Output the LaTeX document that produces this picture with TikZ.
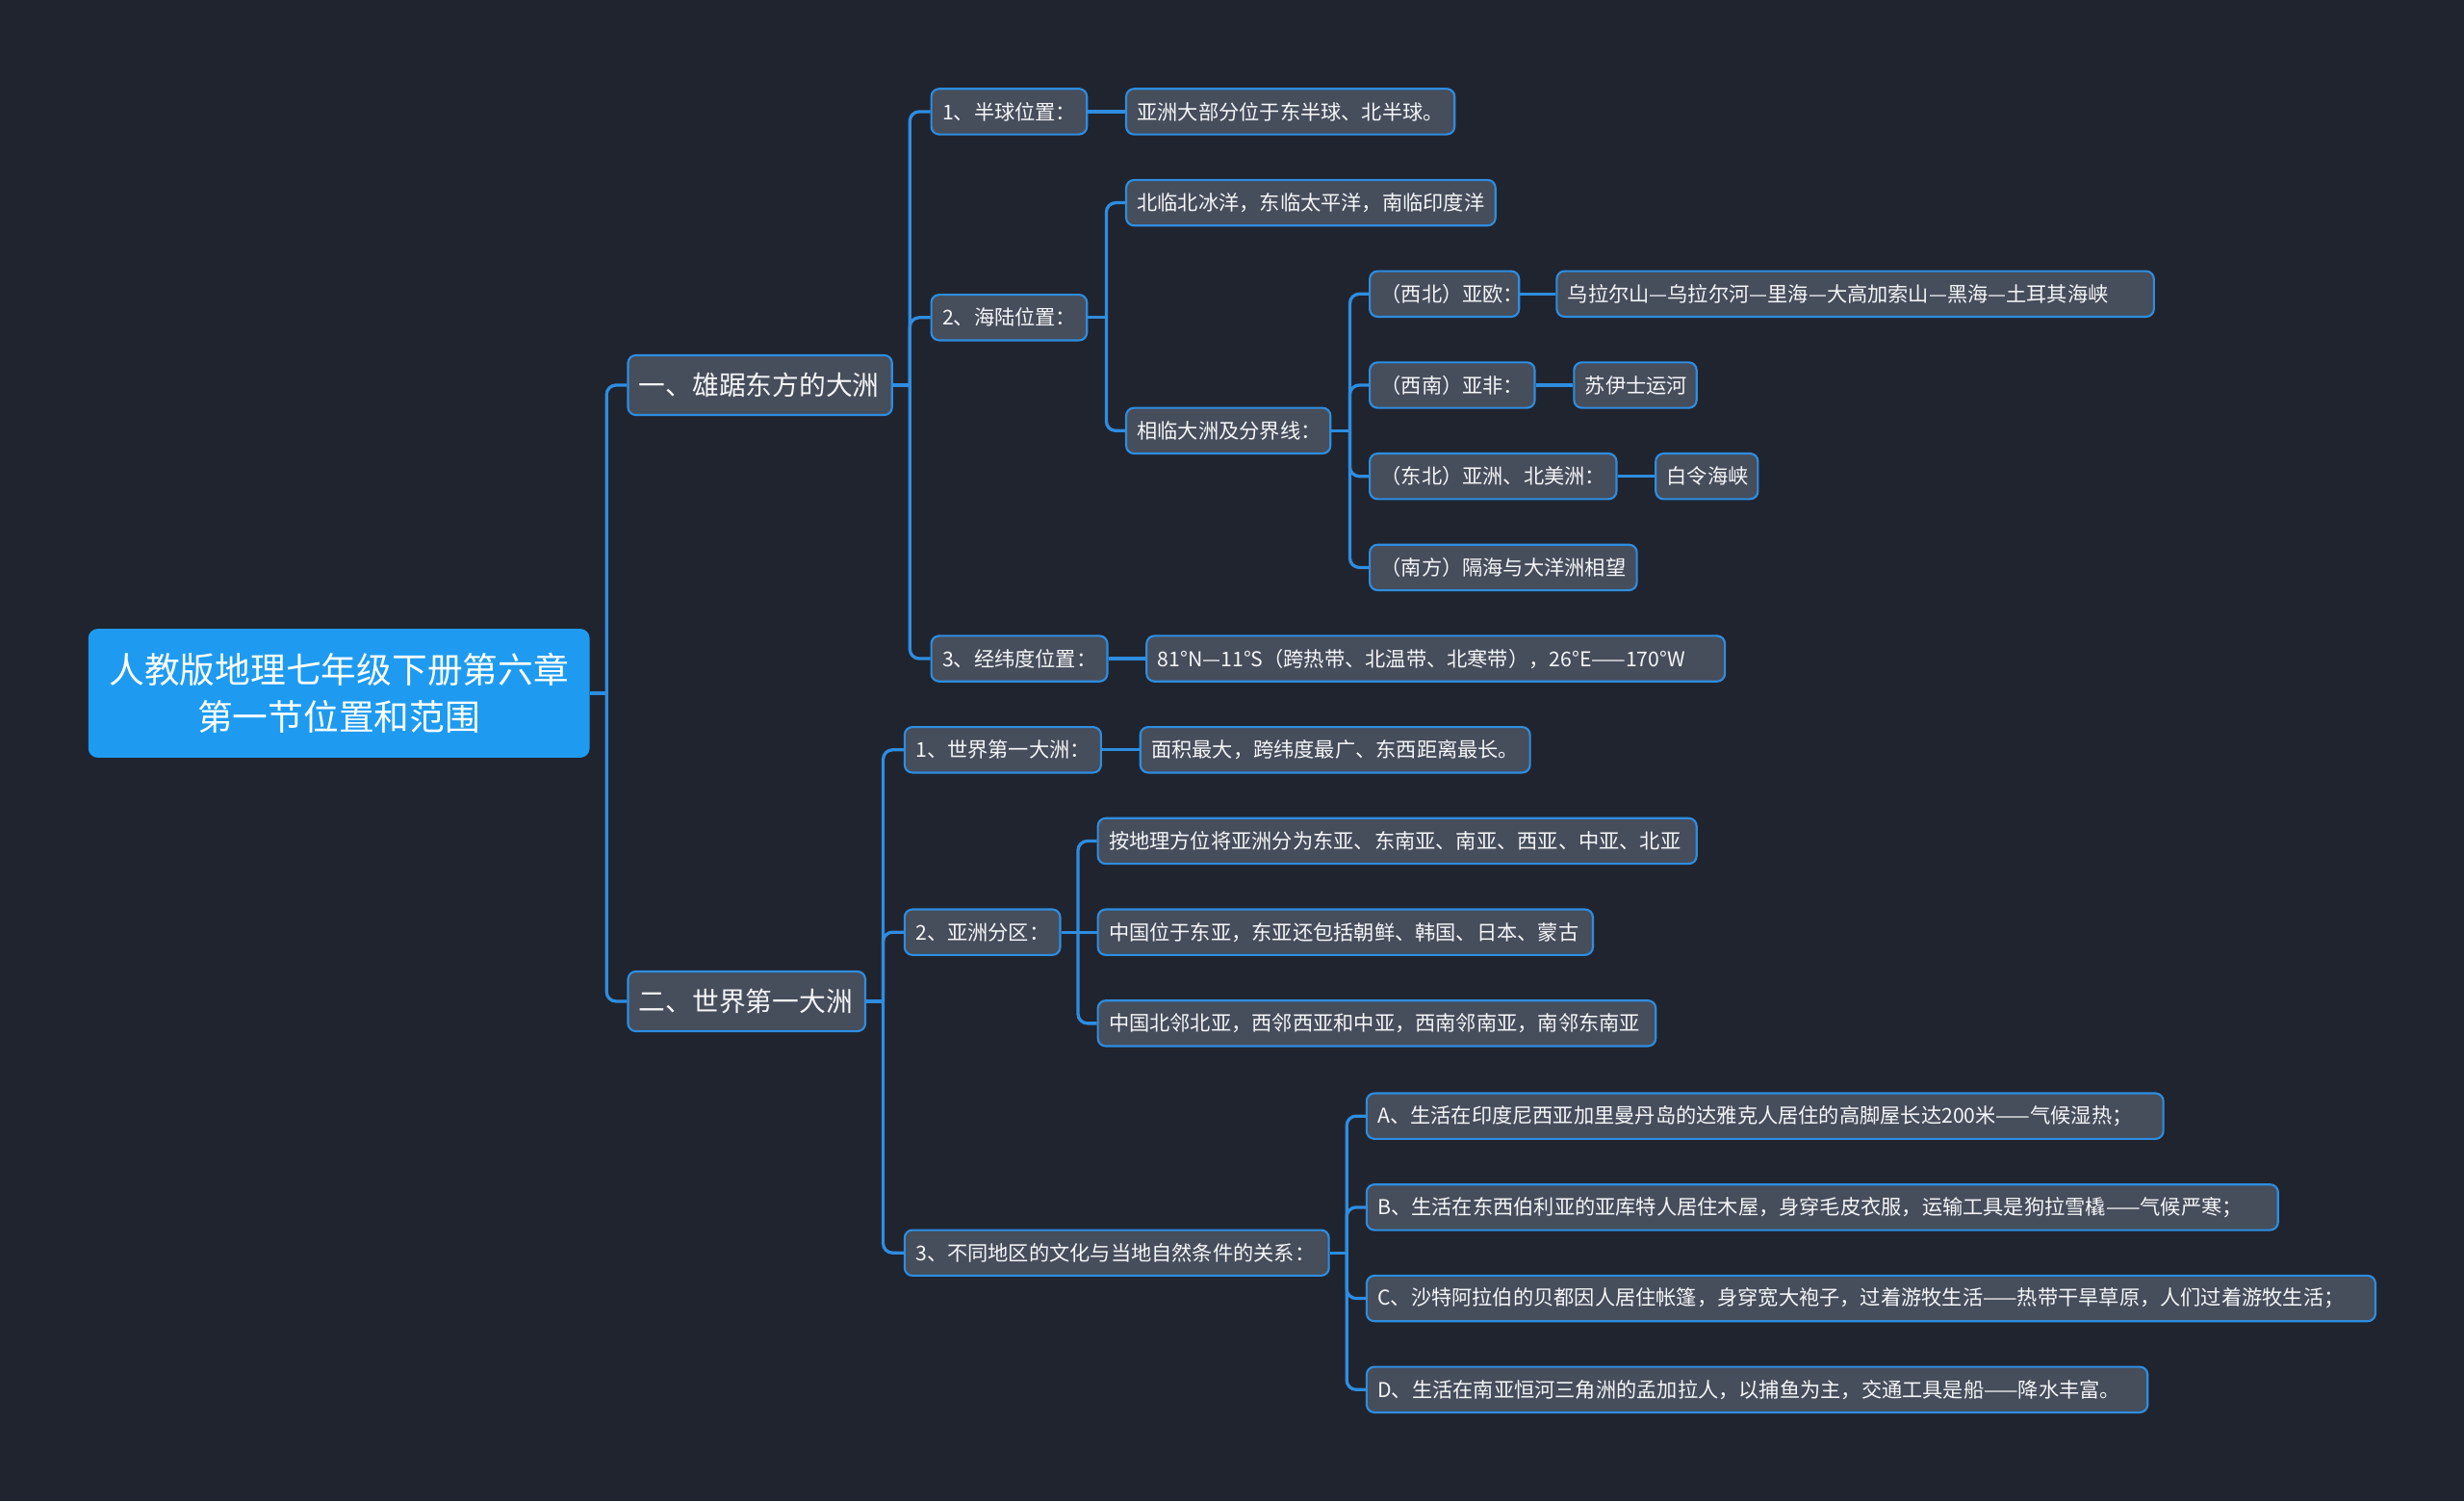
\documentclass[tikz,border=0pt]{standalone}
\usepackage{fontspec}
\newfontfamily\cjk{Noto Sans CJK SC}
\definecolor{bg}{HTML}{20242F}
\definecolor{nodefill}{HTML}{464D5B}
\definecolor{edgeblue}{HTML}{2E8DE0}
\definecolor{rootfill}{HTML}{1E9BF0}
\definecolor{txt}{HTML}{F4F6F8}
\newcommand{\lfbox}[2]{\hbox to \dimexpr#1pt-14pt\relax{#2\hfil}}
\begin{document}
\begin{tikzpicture}[x=1pt,y=-1pt,
 sbox/.style={draw=edgeblue, line width=1.3pt, fill=nodefill, rounded corners=5pt, text=txt, font=\cjk\fontsize{13}{15}\selectfont, minimum height=29pt, inner xsep=7pt, inner ysep=0pt, anchor=west},
 mbox/.style={sbox, font=\cjk\fontsize{17}{20}\selectfont, minimum height=38pt},
 rootbox/.style={fill=rootfill, draw=none, rounded corners=6pt, text=white, font=\cjk\fontsize{22.5}{30}\selectfont, align=center, minimum width=319pt, minimum height=82pt, anchor=west},
 conn/.style={draw=edgeblue, line width=2pt, rounded corners=6pt}]
\fill[bg] (0,0) rectangle (1568,955);
\useasboundingbox (0,0) rectangle (1568,955);

% trunks
\coordinate (t0) at (386,0);
\coordinate (tA) at (579,0);
\coordinate (tA2) at (704,0);
\coordinate (tA22) at (859,0);
\coordinate (tB) at (562,0);
\coordinate (tB2) at (686,0);
\coordinate (tB3) at (857,0);

% nodes
\node[rootbox] (r) at (56,441) {人教版地理七年级下册第六章\\第一节位置和范围};
\node[mbox] (a) at (399,245) {\lfbox{168}{一、雄踞东方的大洲}};
\node[mbox] (b) at (399,637) {\lfbox{151}{二、世界第一大洲}};

\node[sbox] (a1) at (592,71) {\lfbox{99}{1、半球位置：}};
\node[sbox] (a1x) at (716,71) {\lfbox{209}{亚洲大部分位于东半球、北半球。}};
\node[sbox] (a2) at (592,202) {\lfbox{99}{2、海陆位置：}};
\node[sbox] (a2a) at (716,129) {\lfbox{235}{北临北冰洋，东临太平洋，南临印度洋}};
\node[sbox] (a2b) at (716,274) {\lfbox{130}{相临大洲及分界线：}};
\node[sbox] (n1) at (871,187) {\lfbox{95}{（西北）亚欧：}};
\node[sbox] (n1x) at (990,187) {\lfbox{380}{乌拉尔山—乌拉尔河—里海—大高加索山—黑海—土耳其海峡}};
\node[sbox] (n2) at (871,245) {\lfbox{105}{（西南）亚非：}};
\node[sbox] (n2x) at (1001,245) {\lfbox{78}{苏伊士运河}};
\node[sbox] (n3) at (871,303) {\lfbox{157}{（东北）亚洲、北美洲：}};
\node[sbox] (n3x) at (1053,303) {\lfbox{65}{白令海峡}};
\node[sbox] (n4) at (871,361) {\lfbox{170}{（南方）隔海与大洋洲相望}};
\node[sbox] (a3) at (592,419) {\lfbox{112}{3、经纬度位置：}};
\node[sbox] (a3x) at (729,419) {\lfbox{368}{81°N—11°S（跨热带、北温带、北寒带），26°E——170°W}};

\node[sbox] (b1) at (575,477) {\lfbox{125}{1、世界第一大洲：}};
\node[sbox] (b1x) at (725,477) {\lfbox{248}{面积最大，跨纬度最广、东西距离最长。}};
\node[sbox] (b2) at (575,593) {\lfbox{99}{2、亚洲分区：}};
\node[sbox] (b2a) at (698,535) {\lfbox{381}{按地理方位将亚洲分为东亚、东南亚、南亚、西亚、中亚、北亚}};
\node[sbox] (b2b) at (698,593) {\lfbox{315}{中国位于东亚，东亚还包括朝鲜、韩国、日本、蒙古}};
\node[sbox] (b2c) at (698,651) {\lfbox{355}{中国北邻北亚，西邻西亚和中亚，西南邻南亚，南邻东南亚}};
\node[sbox] (b3) at (575,797) {\lfbox{270}{3、不同地区的文化与当地自然条件的关系：}};
\node[sbox] (b3a) at (869,710) {\lfbox{507}{A、生活在印度尼西亚加里曼丹岛的达雅克人居住的高脚屋长达200米——气候湿热；}};
\node[sbox] (b3b) at (869,768) {\lfbox{580}{B、生活在东西伯利亚的亚库特人居住木屋，身穿毛皮衣服，运输工具是狗拉雪橇——气候严寒；}};
\node[sbox] (b3c) at (869,826) {\lfbox{642}{C、沙特阿拉伯的贝都因人居住帐篷，身穿宽大袍子，过着游牧生活——热带干旱草原，人们过着游牧生活；}};
\node[sbox] (b3d) at (869,884) {\lfbox{497}{D、生活在南亚恒河三角洲的孟加拉人，以捕鱼为主，交通工具是船——降水丰富。}};

% connectors
\draw[conn] (r.east) -- (r.east -| t0);
\draw[conn] (r.east -| t0) |- (a.west);
\draw[conn] (r.east -| t0) |- (b.west);

\draw[conn] (a.east) -- (a.east -| tA);
\draw[conn] (a.east -| tA) |- (a1.west);
\draw[conn] (a.east -| tA) |- (a2.west);
\draw[conn] (a.east -| tA) |- (a3.west);
\draw[conn] (a1.east) -- (a1x.west);
\draw[conn] (a2.east) -- (a2.east -| tA2);
\draw[conn] (a2.east -| tA2) |- (a2a.west);
\draw[conn] (a2.east -| tA2) |- (a2b.west);
\draw[conn] (a2b.east) -- (a2b.east -| tA22);
\draw[conn] (a2b.east -| tA22) |- (n1.west);
\draw[conn] (a2b.east -| tA22) |- (n2.west);
\draw[conn] (a2b.east -| tA22) |- (n3.west);
\draw[conn] (a2b.east -| tA22) |- (n4.west);
\draw[conn] (n1.east) -- (n1x.west);
\draw[conn] (n2.east) -- (n2x.west);
\draw[conn] (n3.east) -- (n3x.west);
\draw[conn] (a3.east) -- (a3x.west);

\draw[conn] (b.east) -- (b.east -| tB);
\draw[conn] (b.east -| tB) |- (b1.west);
\draw[conn] (b.east -| tB) |- (b2.west);
\draw[conn] (b.east -| tB) |- (b3.west);
\draw[conn] (b1.east) -- (b1x.west);
\draw[conn] (b2.east) -- (b2.east -| tB2);
\draw[conn] (b2.east -| tB2) |- (b2a.west);
\draw[conn] (b2.east -| tB2) -- (b2b.west);
\draw[conn] (b2.east -| tB2) |- (b2c.west);
\draw[conn] (b3.east) -- (b3.east -| tB3);
\draw[conn] (b3.east -| tB3) |- (b3a.west);
\draw[conn] (b3.east -| tB3) |- (b3b.west);
\draw[conn] (b3.east -| tB3) |- (b3c.west);
\draw[conn] (b3.east -| tB3) |- (b3d.west);
\end{tikzpicture}
\end{document}
